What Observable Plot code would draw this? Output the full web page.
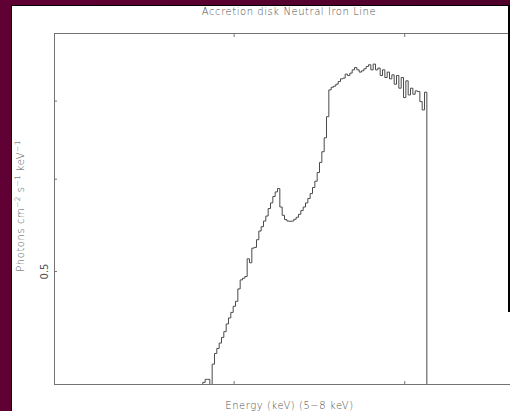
<!DOCTYPE html>
<html>
<head>
<meta charset="utf-8">
<script src="https://cdn.jsdelivr.net/npm/d3@7"></script>
<script src="https://cdn.jsdelivr.net/npm/@observablehq/plot@0.6"></script>
<style>
html, body { margin: 0; padding: 0; overflow: hidden; width: 510px; height: 411px; background: #5c0032; }
#wrap { position: relative; width: 510px; height: 411px; overflow: hidden;
  background: linear-gradient(to right, #600034, #4e002a); }
#panel { position: absolute; left: 11px; top: 5px; width: 498px; height: 406px; background: #fff;
  border-left: 1.5px solid #000; border-top: 1.5px solid #000; }
#rbar { position: absolute; left: 508px; top: 6px; width: 2px; height: 306px; background: #000; }
#chart { position: absolute; left: 0; top: 0; }
.t { position: absolute; font-family: "DejaVu Sans", "Liberation Sans", sans-serif; font-size: 10px;
  line-height: 10px; color: #4e4e4e; white-space: nowrap; letter-spacing: 0.55px; font-weight: 300; }
.t sup { font-size: 7.5px; line-height: 0; vertical-align: 4px; letter-spacing: 0.3px; }
#title { left: 289px; top: 6.5px; transform: translateX(-50%); }
#xlab { left: 289.5px; top: 400.5px; transform: translateX(-50%); }
#ylab { left: 21px; top: 206px; transform: translate(-50%, -50%) rotate(-90deg); }
</style>
</head>
<body>
<div id="wrap">
  <div id="panel"></div>
  <div id="chart"></div>
  <div id="rbar"></div>
  <div class="t" id="title">Accretion disk Neutral Iron Line</div>
  <div class="t" id="xlab">Energy (keV) (5−8 keV)</div>
  <div class="t" id="ylab">Photons cm<sup>−2</sup> s<sup>−1</sup> keV<sup>−1</sup></div>
</div>
<script>
// ---- data ----
const xDomain = [4.947, 8];          // keV
const yDomain = [0.4, 0.8];          // photons cm^-2 s^-1 keV^-1 (log)
const xTicks = [6, 7];
const yTicks = [0.5, 0.6, 0.7];
const yLabelled = [0.5];
const binStart = 5.8165;             // keV, low edge of first visible bin
const binWidth = 0.01368;            // keV
const belowFloor = 0.3;              // value outside the plotted range
const flux = [
  0.4017, 0.4041, 0.4041, 0.3900, 0.4164, 0.4253, 0.4295, 0.4341, 0.4390, 0.4440,
  0.4508, 0.4562, 0.4612, 0.4668, 0.4714, 0.4831, 0.4918, 0.4934, 0.4951, 0.5127,
  0.5087, 0.5236, 0.5244, 0.5324, 0.5416, 0.5463, 0.5524, 0.5579, 0.5662, 0.5725,
  0.5798, 0.5851, 0.5890, 0.5679, 0.5587, 0.5540, 0.5524, 0.5521, 0.5524, 0.5543,
  0.5565, 0.5598, 0.5639, 0.5679, 0.5725, 0.5775, 0.5832, 0.5902, 0.5976, 0.6080,
  0.6202, 0.6334, 0.6511, 0.6788, 0.7157, 0.7195, 0.7210, 0.7238, 0.7276, 0.7315,
  0.7325, 0.7383, 0.7363, 0.7398, 0.7446, 0.7480, 0.7446, 0.7413, 0.7432, 0.7461,
  0.7496, 0.7521, 0.7446, 0.7531, 0.7446, 0.7472, 0.7363, 0.7446, 0.7334, 0.7413,
  0.7315, 0.7373, 0.7238, 0.7363, 0.7181, 0.7334, 0.7049, 0.7286, 0.7086, 0.7181,
  0.7096, 0.7143, 0.7133, 0.6993, 0.6879, 0.7124
];

// ---- table for the step line ----
const pts = [{e: binStart - binWidth, v: belowFloor}];
flux.forEach((v, i) => pts.push({e: binStart + i * binWidth, v}));
pts.push({e: binStart + flux.length * binWidth, v: belowFloor});
pts.push({e: binStart + (flux.length + 1) * binWidth, v: belowFloor});

const frameColor = "#737373";
const chart = Plot.plot({
  width: 510,
  height: 411,
  marginLeft: 54,
  marginTop: 33,
  marginBottom: 27,
  marginRight: -64.8,
  style: {background: "none", fontFamily: "DejaVu Sans, Liberation Sans, sans-serif", fontSize: "10px", color: "#4e4e4e", overflow: "hidden"},
  x: {domain: xDomain},
  y: {type: "log", domain: yDomain},
  marks: [
    Plot.frame({stroke: frameColor}),
    Plot.axisX({anchor: "bottom", ticks: xTicks, tickSize: -3, tickFormat: () => "", stroke: frameColor, label: null}),
    Plot.axisX({anchor: "top", ticks: xTicks, tickSize: -3, tickFormat: () => "", stroke: frameColor, label: null}),
    Plot.axisY({anchor: "left", ticks: yTicks, tickSize: -3, tickFormat: () => "", stroke: frameColor, label: null}),
    Plot.axisY({anchor: "left", ticks: yLabelled, tickSize: 0, tickPadding: 7,
      tickFormat: d => String(d), tickRotate: -90, fill: "#4e4e4e", label: null, letterSpacing: 0.4}),
    Plot.line(pts, {x: "e", y: "v", curve: "step-after", stroke: "#4a4a4a", strokeWidth: 1, clip: true})
  ]
});
document.getElementById("chart").appendChild(chart);
</script>
</body>
</html>
